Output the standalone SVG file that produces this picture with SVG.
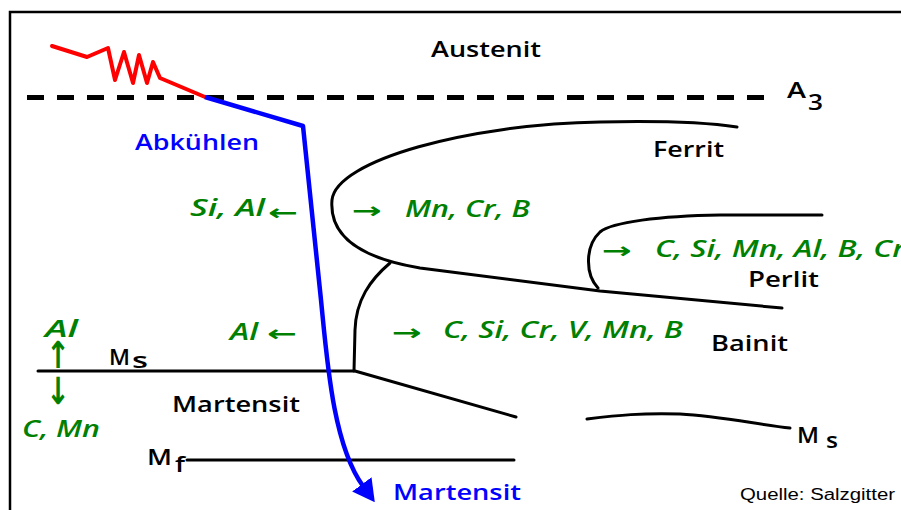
<svg xmlns="http://www.w3.org/2000/svg" width="901" height="510" viewBox="0 0 901 510">
<defs>
<style>
.lbl{font-family:"Open Sans","Liberation Sans",sans-serif;font-weight:600;font-size:22px;fill:#000}
.blue{fill:#0000ff}
.grn{font-family:"Open Sans","Liberation Sans",sans-serif;font-style:italic;font-weight:600;font-size:24px;fill:#008000}
.arr{font-family:"DejaVu Sans",sans-serif;font-weight:bold;font-size:22px;fill:#008000}
.ln{fill:none;stroke:#000;stroke-width:3;stroke-linecap:round;stroke-linejoin:round}
.src{font-family:"Liberation Sans",Arial,sans-serif;font-size:16px;fill:#000}
</style>
<marker id="ah" markerUnits="userSpaceOnUse" viewBox="0 0 22 24" refX="2" refY="12" markerWidth="22" markerHeight="24" orient="auto">
<path d="M0,0 L22,12 L0,24 z" fill="#0000ff"/>
</marker>
</defs>
<rect width="901" height="510" fill="#fff"/>
<g id="frame">
<path d="M10,510 L10,12 L901,12" fill="none" stroke="#000" stroke-width="2.5"/>
</g>
<g id="connectors">
<path id="a3-line" d="M27,97.5 L766,97.5" fill="none" stroke="#000" stroke-width="5" stroke-dasharray="17 13"/>
<path id="ferrit-curve" class="ln" d="M737,127 Q690,120 600,122 C470,124 336,160 332,200 C329,236 360,258 420,268 L600,291 L782,308"/>
<path id="perlit-curve" class="ln" d="M822,215 L720,215 C660,216 612,222 600,232 C585,246 585,274 598,288"/>
<path id="bainit-curve" class="ln" d="M390,263 C370,280 356,300 355,330 L354,371"/>
<path id="ms-left" class="ln" d="M38,371 L355,371 L516,417"/>
<path id="ms-right" class="ln" d="M587,419 C620,415 640,413 680,414 C720,416 760,425 790,428"/>
<path id="mf-line" class="ln" d="M187,460 L514,460"/>
<path id="red-path" d="M52,46 L87,57 L108,48 L115,80 L124,52 L133,83 L139,55 L147,83 L153,62 L160,78 L205,97" fill="none" stroke="#ff0000" stroke-width="4" stroke-linejoin="round" stroke-linecap="round"/>
<path id="blue-path" d="M205,97 L303,126 L321,300 C327,360 333,445 363,486" fill="none" stroke="#0000ff" stroke-width="4.5" stroke-linejoin="round" marker-end="url(#ah)"/>
</g>
<g id="austenit"><text class="lbl" x="431" y="57" textLength="110" lengthAdjust="spacingAndGlyphs">Austenit</text></g>
<g id="a3"><text class="lbl" x="787" y="98" textLength="19" lengthAdjust="spacingAndGlyphs">A</text><text class="lbl" x="808" y="110" textLength="15" lengthAdjust="spacingAndGlyphs">3</text></g>
<g id="abkuehlen"><text class="lbl blue" x="135" y="150" textLength="124" lengthAdjust="spacingAndGlyphs">Abkühlen</text></g>
<g id="ferrit"><text class="lbl" x="653" y="157" textLength="71" lengthAdjust="spacingAndGlyphs">Ferrit</text></g>
<g id="perlit"><text class="lbl" x="748" y="287" textLength="71" lengthAdjust="spacingAndGlyphs">Perlit</text></g>
<g id="bainit"><text class="lbl" x="711" y="351" textLength="77" lengthAdjust="spacingAndGlyphs">Bainit</text></g>
<g id="martensit"><text class="lbl" x="172" y="412" textLength="128" lengthAdjust="spacingAndGlyphs">Martensit</text></g>
<g id="martensit-end"><text class="lbl blue" x="393" y="500" textLength="128" lengthAdjust="spacingAndGlyphs">Martensit</text></g>
<g id="ms-left-label"><text class="lbl" x="109" y="365" font-size="26" textLength="21" lengthAdjust="spacingAndGlyphs">M</text><text class="lbl" x="132" y="368" font-size="24" textLength="16" lengthAdjust="spacingAndGlyphs">s</text></g>
<g id="ms-right-label"><text class="lbl" x="797" y="443" font-size="26" textLength="22" lengthAdjust="spacingAndGlyphs">M</text><text class="lbl" x="826" y="448" font-size="22" textLength="12" lengthAdjust="spacingAndGlyphs">s</text></g>
<g id="mf-label"><text class="lbl" x="147" y="465" font-size="26" textLength="25" lengthAdjust="spacingAndGlyphs">M</text><text class="lbl" x="175" y="472" font-size="26" textLength="10" lengthAdjust="spacingAndGlyphs">f</text></g>
<g id="ferrit-elements">
<text class="grn" x="190" y="216" textLength="75" lengthAdjust="spacingAndGlyphs">Si, Al</text>
<text class="arr" x="268" y="220" textLength="30" lengthAdjust="spacingAndGlyphs">←</text>
<text class="arr" x="352" y="218" textLength="30" lengthAdjust="spacingAndGlyphs">→</text>
<text class="grn" x="405" y="217" textLength="125" lengthAdjust="spacingAndGlyphs">Mn, Cr, B</text>
</g>
<g id="perlit-elements">
<text class="arr" x="602" y="258" textLength="30" lengthAdjust="spacingAndGlyphs">→</text>
<text class="grn" x="655" y="257" textLength="250" lengthAdjust="spacingAndGlyphs">C, Si, Mn, Al, B, Cr</text>
</g>
<g id="bainit-elements">
<text class="grn" x="230" y="340" textLength="28" lengthAdjust="spacingAndGlyphs">Al</text>
<text class="arr" x="267" y="341" textLength="30" lengthAdjust="spacingAndGlyphs">←</text>
<text class="arr" x="392" y="340" textLength="30" lengthAdjust="spacingAndGlyphs">→</text>
<text class="grn" x="443" y="338" textLength="240" lengthAdjust="spacingAndGlyphs">C, Si, Cr, V, Mn, B</text>
</g>
<g id="ms-elements">
<text class="grn" x="45" y="337" textLength="33" lengthAdjust="spacingAndGlyphs">Al</text>
<text class="arr" transform="translate(58,368) scale(1.3,1.7)" font-size="26" font-weight="normal" text-anchor="middle">↑</text>
<text class="arr" transform="translate(58,404) scale(1.3,1.7)" font-size="26" font-weight="normal" text-anchor="middle">↓</text>
<text class="grn" x="22" y="437" textLength="78" lengthAdjust="spacingAndGlyphs">C, Mn</text>
</g>
<g id="source"><text class="src" x="740" y="500" textLength="155" lengthAdjust="spacingAndGlyphs">Quelle: Salzgitter</text></g>
</svg>
